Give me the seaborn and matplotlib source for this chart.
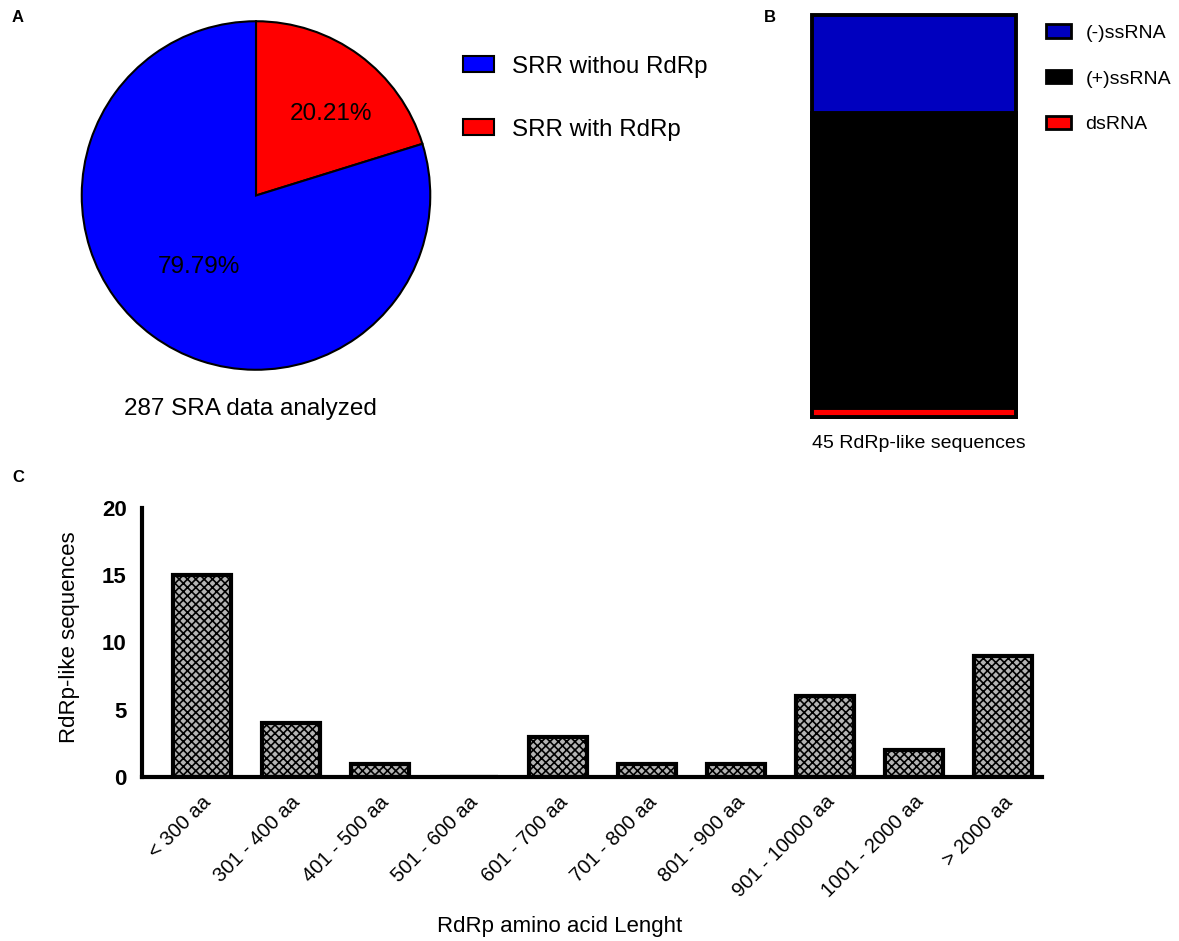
import pandas as pd
import numpy as np
import matplotlib.pyplot as plt
import seaborn as sns
from matplotlib.patches import Patch

sns.set_style('white')
plt.rcParams['font.family'] = ['Liberation Sans', 'DejaVu Sans']
plt.rcParams['hatch.linewidth'] = 1.2
plt.rcParams['text.color'] = 'black'
plt.rcParams['axes.labelcolor'] = 'black'
plt.rcParams['xtick.color'] = 'black'
plt.rcParams['ytick.color'] = 'black'
plt.rcParams['axes.edgecolor'] = 'black'

# panel A: SRA runs
pie_labels = ['SRR with RdRp', 'SRR withou RdRp']
pie_counts = [58, 229]
pie_colors = ['#ff0000', '#0000ff']

# panel B: genome type of RdRp-like sequences (top to bottom)
gtypes = ['(-)ssRNA', '(+)ssRNA', 'dsRNA']
gcounts = [11, 33, 1]
gcolors = ['#0000bf', '#000000', '#ff0000']

# panel C: length classes
len_classes = ['< 300 aa', '301 - 400 aa', '401 - 500 aa', '501 - 600 aa', '601 - 700 aa',
               '701 - 800 aa', '801 - 900 aa', '901 - 10000 aa', '1001 - 2000 aa', '> 2000 aa']
len_counts = [15, 4, 1, 0, 3, 1, 1, 6, 2, 9]

W, H = 1179, 941
fig = plt.figure(figsize=(W / 100, H / 100), dpi=100)

def box(l, t, r, b):
    return [l / W, 1 - b / H, (r - l) / W, (b - t) / H]

# ---- A: pie
axA = fig.add_axes(box(80, 18, 432, 373))
wedges, _, autotexts = axA.pie(pie_counts, colors=pie_colors, startangle=90, counterclock=False,
                               autopct='%.2f%%', pctdistance=0.56,
                               wedgeprops=dict(edgecolor='black', linewidth=1.5),
                               textprops=dict(fontsize=17.5, color='black'))
# nudge the percentage labels to where they sit in the figure
autotexts[0].set_position((0.43, 0.47))
autotexts[1].set_position((-0.33, -0.41))
axA.set_xlim(-1.01, 1.01)
axA.set_ylim(-1.01, 1.01)
axA.set_aspect('equal')
fig.text(250 / W, 1 - 409 / H, '287 SRA data analyzed', ha='center', va='center', fontsize=17.5)
hA = [Patch(facecolor=pie_colors[1], edgecolor='black', linewidth=1.5, label=pie_labels[1]),
      Patch(facecolor=pie_colors[0], edgecolor='black', linewidth=1.5, label=pie_labels[0])]
fig.legend(handles=hA, loc='upper left', bbox_to_anchor=(441 / W, 1 - 34 / H), frameon=False,
           fontsize=17.4, handlelength=1.3, handleheight=0.62, handletextpad=0.75, labelspacing=1.7)

# ---- B: stacked bar
axB = fig.add_axes(box(812, 15, 1016, 417))
cum = np.cumsum(gcounts[::-1])[::-1]  # heights of stacked tops
for top, col in zip(cum, gcolors):
    sns.barplot(data=pd.DataFrame({'grp': ['all'], 'n': [top]}), x='grp', y='n', ax=axB,
                color=col, width=1.0, saturation=1, edgecolor='black', linewidth=2.8)
for p in axB.patches:
    p.set_clip_on(False)
axB.set_xlim(-0.5, 0.5)
axB.set_ylim(0, sum(gcounts))
axB.axis('off')
fig.text(812 / W, 1 - 444 / H, '45 RdRp-like sequences', ha='left', va='center', fontsize=14)
hB = [Patch(facecolor=c, edgecolor='black', linewidth=2, label=l) for c, l in zip(gcolors, gtypes)]
fig.legend(handles=hB, loc='upper left', bbox_to_anchor=(1028 / W, 1 - 7 / H), frameon=False,
           fontsize=14, handlelength=1.3, handleheight=0.67, handletextpad=0.75, labelspacing=1.45)

# ---- C: bar chart
axC = fig.add_axes(box(142, 507.7, 1042, 777))
dfC = pd.DataFrame({'len': len_classes, 'n': len_counts})
sns.barplot(data=dfC, x='len', y='n', ax=axC, color='#b4b4b4', saturation=1, width=0.65,
            edgecolor='black', linewidth=3)
for p in axC.patches:
    p.set_hatch('xxxx')
axC.set_xlim(-0.67, 9.44)
axC.set_ylim(0, 20)
axC.set_yticks([0, 5, 10, 15, 20])
sns.despine(ax=axC)
for s in ['left', 'bottom']:
    axC.spines[s].set_linewidth(3)
axC.tick_params(axis='both', direction='out', width=3, length=7.5, color='black')
axC.tick_params(axis='y', labelsize=16)
for t in axC.get_yticklabels():
    t.set_fontweight('bold')
axC.set_xticks(range(len(len_classes)))
axC.set_xticklabels(len_classes, rotation=45, ha='right', rotation_mode='anchor', fontsize=14.5)
axC.set_xlabel('RdRp amino acid Lenght', fontsize=16)
axC.set_ylabel('RdRp-like sequences', fontsize=16)
axC.xaxis.set_label_coords((560 - 142) / 900, -(916 - 777) / 269.3)
axC.yaxis.set_label_coords(-(142 - 80) / 900, (777 - 637) / 269.3)

for lab, x, y in [('A', 18, 18), ('B', 770, 18), ('C', 18, 477)]:
    fig.text(x / W, 1 - y / H, lab, fontsize=12, fontweight='bold', ha='center', va='center')

fig.savefig('out.png', dpi=100)
